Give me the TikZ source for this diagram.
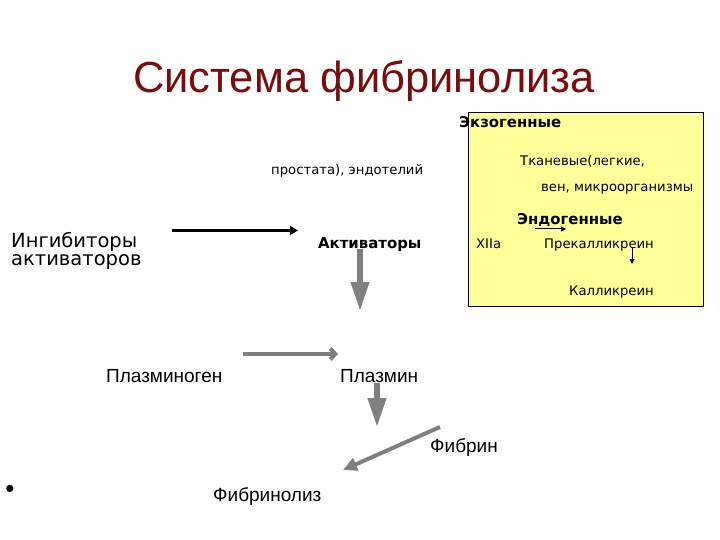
\documentclass[tikz,border=0pt]{standalone}
\usepackage{fontspec}
\setmainfont{Liberation Sans}
\newfontfamily\dvs{DejaVu Sans}
\usetikzlibrary{arrows.meta}
\definecolor{titlered}{RGB}{122,12,12}
\definecolor{arrgray}{RGB}{128,128,128}
\definecolor{boxyellow}{RGB}{255,255,153}
\tikzset{
  lbl/.style={inner sep=0pt, anchor=base west},
  big/.style={lbl, font=\fontsize{19}{19}\selectfont},
  small/.style={lbl, font=\dvs\fontsize{13.2}{14}\selectfont},
  smallbold/.style={lbl, font=\dvs\bfseries\fontsize{14.9}{15}\selectfont},
  fatarrow/.style={draw=arrgray, line width=6.5pt, -{Triangle[length=30pt,width=17pt]}, arrgray},
  grayline/.style={draw=arrgray, line width=4pt},
  tinyarrow/.style={draw=black, line width=1pt, -{Triangle[length=5pt,width=5pt]}},
}
\begin{document}
\begin{tikzpicture}[x=1pt,y=-1pt]
\useasboundingbox (0,0) rectangle (720,540);
\fill[white] (0,0) rectangle (720,540);
% title
\node[inner sep=0pt, anchor=base, text=titlered, font=\fontsize{43.5}{44}\selectfont] (title) at (364,93) {Система фибринолиза};
% yellow box
\draw[fill=boxyellow, line width=0.8pt] (468,112) rectangle (703,306);
\node[smallbold] (exo) at (459,128) {Экзогенные};
\node[small] (tkan) at (520,166) {Тканевые(легкие,};
\node[small] (ven) at (541,192) {вен, микроорганизмы};
\node[smallbold] (endo) at (517,225) {Эндогенные};
\node[small] (xiia) at (476,248) {XIIa};
\node[small] (prek) at (544,248) {Прекалликреин};
\node[small] (kall) at (569,295) {Калликреин};
\coordinate (ea1) at (535,229);
\coordinate (ea2) at (566,229);
\draw[tinyarrow] (ea1) -- (ea2);
\coordinate (pk1) at (632,247);
\coordinate (pk2) at (632,264);
\draw[tinyarrow] (pk1) -- (pk2);
% left/middle texts
\node[small] (prost) at (271,175) {простата), эндотелий};
\node[lbl, align=left, font=\dvs\fontsize{19.5}{18.5}\selectfont] (inh) at (11,265.5) {Ингибиторы\\активаторов};
\node[smallbold] (akt) at (318,248) {Активаторы};
\node[big] (plg) at (106,382) {Плазминоген};
\node[big] (pl) at (340,382) {Плазмин};
\node[big] (fib) at (430,452) {Фибрин};
\node[big] (fibl) at (213,501) {Фибринолиз};
\node[inner sep=0pt, font=\fontsize{26}{26}\selectfont] (bullet) at (10,491) {•};
% arrows
\coordinate (b1) at (172,230.5);
\coordinate (b2) at (298,230.5);
\draw[line width=3pt, -{Triangle[length=8pt,width=9pt]}] (b1) -- (b2);
\coordinate (a1) at (360,249);
\coordinate (a2) at (360,312);
\draw[fatarrow] (a1) -- (a2);
\coordinate (p1) at (243,354);
\coordinate (p2) at (338,354);
\draw[grayline, -{Straight Barb[length=5pt,width=11pt]}] (p1) -- (p2);
\coordinate (m1) at (377,383);
\coordinate (m2) at (377,428);
\draw[fatarrow] (m1) -- (m2);
\coordinate (f1) at (440,427);
\coordinate (f2) at (343,470);
\draw[grayline, -{Triangle[length=14pt,width=13pt]}, arrgray] (f1) -- (f2);
\end{tikzpicture}
\end{document}
